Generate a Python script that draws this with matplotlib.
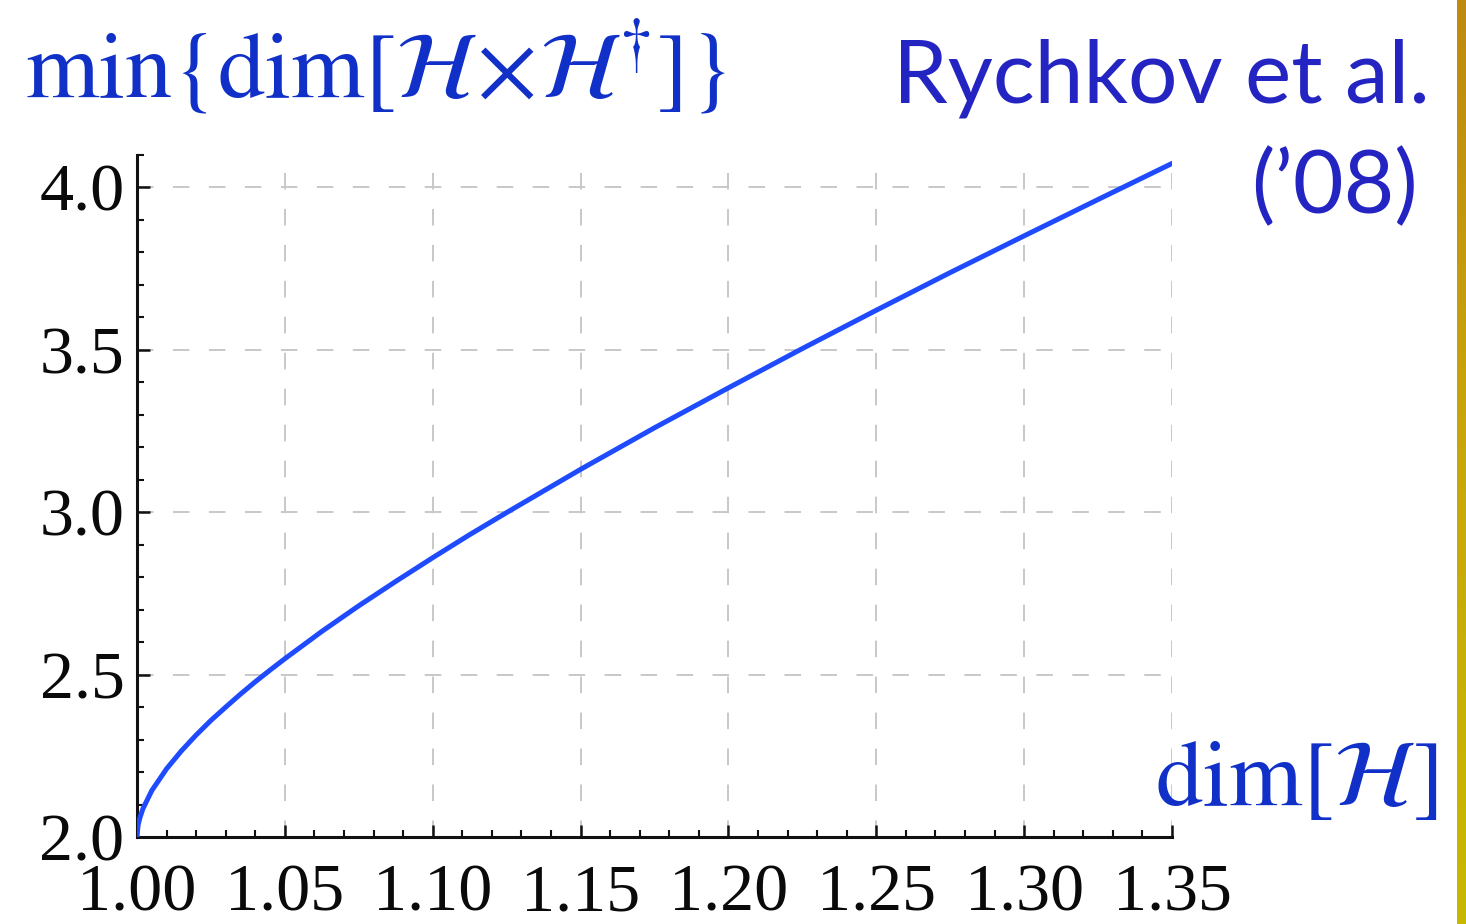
import numpy as np
import matplotlib
matplotlib.use("Agg")
import matplotlib.pyplot as plt
from matplotlib.ticker import MultipleLocator
from matplotlib.colors import LinearSegmentedColormap

# valeurs
dim_H = [1.000, 1.0003, 1.0005, 1.001, 1.002, 1.005, 1.010, 1.015, 1.020, 1.025,
         1.030, 1.035, 1.040, 1.045, 1.050, 1.0625, 1.075, 1.0875, 1.100, 1.1125,
         1.125, 1.150, 1.175, 1.200, 1.225, 1.250, 1.275, 1.300, 1.325, 1.350]
min_dim_HH = [2.000, 2.032, 2.042, 2.060, 2.087, 2.143, 2.210, 2.265, 2.314, 2.359,
              2.400, 2.440, 2.478, 2.514, 2.549, 2.633, 2.712, 2.787, 2.860, 2.931,
              2.999, 3.132, 3.260, 3.383, 3.504, 3.622, 3.738, 3.851, 3.963, 4.074]

x_ticks = [1.00, 1.05, 1.10, 1.15, 1.20, 1.25, 1.30, 1.35]
y_ticks = [2.0, 2.5, 3.0, 3.5, 4.0]

bleu_texte = '#1030c8'
bleu_ref = '#2424c2'
bleu_courbe = '#1f4bff'

plt.rcParams['mathtext.fontset'] = 'stix'

W, H = 1466, 924
fig = plt.figure(figsize=(W / 100, H / 100), dpi=100)
ax = fig.add_axes([137 / W, 1 - 837 / H, (1172 - 137) / W, (837 - 155) / H])

ax.plot(dim_H, min_dim_HH, color=bleu_courbe, lw=3.6, solid_capstyle='round',
        solid_joinstyle='round', zorder=3)

ax.set_xlim(1.0, 1.35)
ax.set_ylim(2.0, 4.1)
ax.set_xticks(x_ticks)
ax.set_yticks(y_ticks)
ax.set_xticklabels(["%.2f" % v for v in x_ticks])
ax.set_yticklabels(["%.1f" % v for v in y_ticks])
ax.xaxis.set_minor_locator(MultipleLocator(0.01))
ax.yaxis.set_minor_locator(MultipleLocator(0.1))

for s in ['top', 'right']:
    ax.spines[s].set_visible(False)
for s in ['left', 'bottom']:
    ax.spines[s].set_linewidth(2.2)
    ax.spines[s].set_color('#111111')

ax.tick_params(which='major', direction='in', length=9, width=1.8, color='#111111')
ax.tick_params(which='minor', direction='in', length=5, width=1.5, color='#111111')
ax.tick_params(axis='x', which='major', pad=19)
ax.tick_params(axis='y', which='major', pad=9)
for lab in ax.get_xticklabels() + ax.get_yticklabels():
    lab.set_fontfamily('Liberation Serif')
    lab.set_fontsize(49)
    lab.set_color('#0a0a0a')

ax.grid(True, which='major', color='#c8c8c8', linewidth=1.4, linestyle=(0, (8.5, 10)))
ax.set_axisbelow(True)

# textes
fig.text(25 / W, 1 - 97 / H, r'$\mathrm{min}\{\mathrm{dim}[\mathcal{H}\!\times\!\mathcal{H}^{\dagger}]\}$',
         color=bleu_texte, fontsize=68, ha='left', va='baseline')
fig.text(1430 / W, 1 - 103 / H, "Rychkov et al.", family='Lato', color=bleu_ref,
         fontsize=63, ha='right', va='baseline')
fig.text(1418 / W, 1 - 213 / H, "(\u201908)", family='Lato', color=bleu_ref,
         fontsize=63, ha='right', va='baseline')
fig.text(1155 / W, 1 - 805 / H, r'$\mathrm{dim}[\mathcal{H}]$',
         color=bleu_texte, fontsize=68, ha='left', va='baseline')

# bande dorée à droite
bande = fig.add_axes([1457 / W, 0, 9 / W, 1])
grad = np.linspace(0, 1, 256).reshape(-1, 1)
cmap = LinearSegmentedColormap.from_list('or', ['#bf8a10', '#c9a80a', '#c8b800'])
bande.imshow(grad, aspect='auto', cmap=cmap)
bande.axis('off')

fig.savefig('out.png', dpi=100)
